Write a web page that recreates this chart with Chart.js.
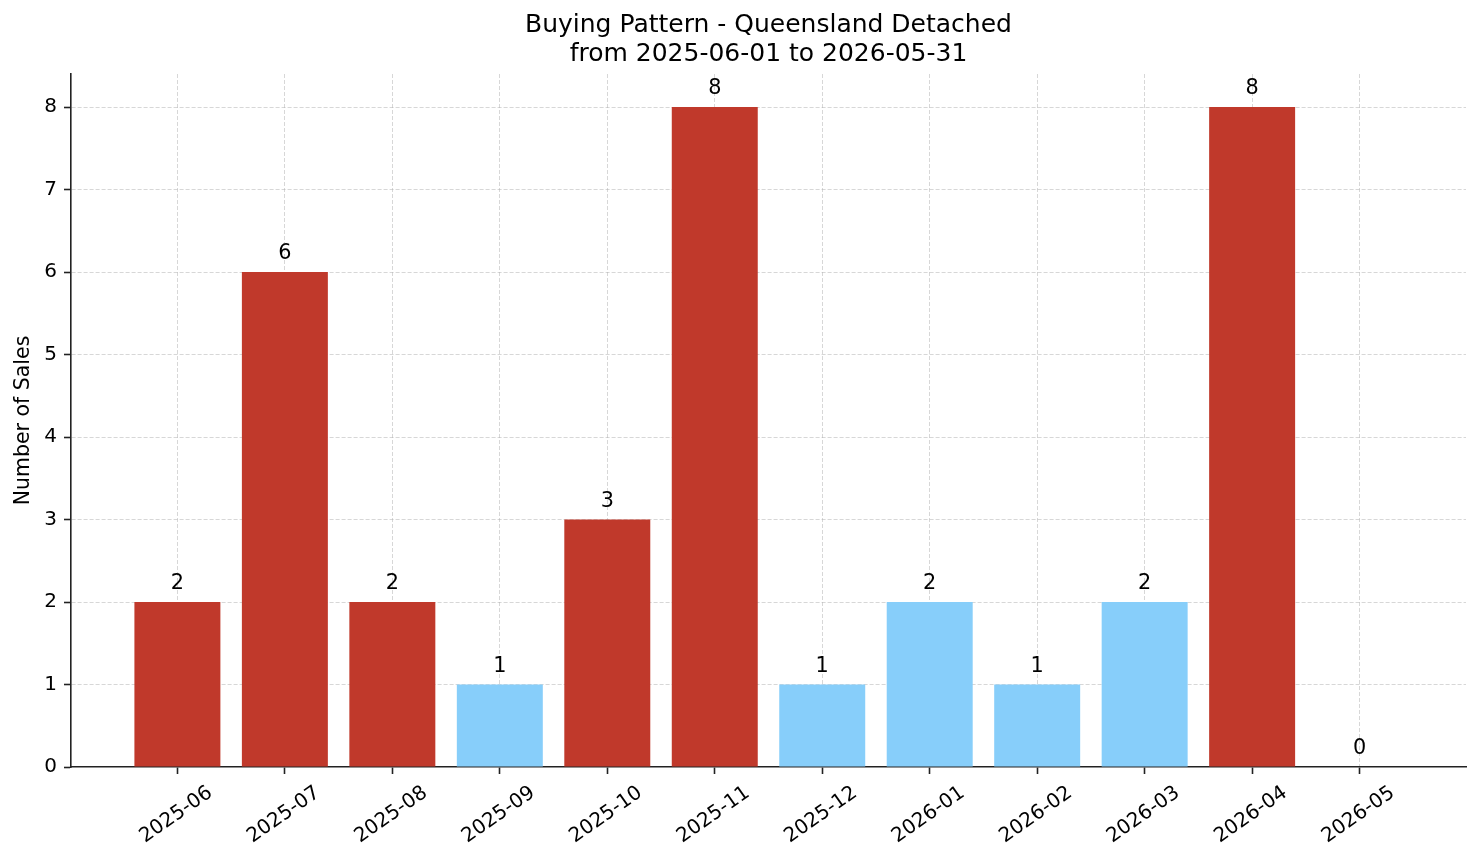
<!DOCTYPE html>
<html>
<head>
<meta charset="utf-8">
<title>Buying Pattern - Queensland Detached</title>
<script src="https://cdn.jsdelivr.net/npm/chart.js@4.4.1/dist/chart.umd.min.js"></script>
<style>
  html, body { margin: 0; padding: 0; background: #fff; }
  canvas { display: block; }
</style>
</head>
<body>
<canvas id="buyingChart" width="1481" height="863"></canvas>
<script>
// months and number of sales per month
const months = ['2025-06', '2025-07', '2025-08', '2025-09', '2025-10', '2025-11',
                '2025-12', '2026-01', '2026-02', '2026-03', '2026-04', '2026-05'];
const sales = [2, 6, 2, 1, 3, 8, 1, 2, 1, 2, 8, 0];
// red = busy month, light blue = quiet month
const barColors = ['#c0392b', '#c0392b', '#c0392b', '#87cefa', '#c0392b', '#c0392b',
                   '#87cefa', '#87cefa', '#87cefa', '#87cefa', '#c0392b', '#87cefa'];

const FONT = 'DejaVu Sans';

// value labels above each bar, drawn last so they sit on top of the grid
const valueLabels = {
    id: 'valueLabels',
    afterDraw(chart) {
        const ctx = chart.ctx;
        const meta = chart.getDatasetMeta(0);
        ctx.save();
        ctx.font = '20.8px "' + FONT + '"';
        ctx.fillStyle = '#000';
        ctx.textAlign = 'center';
        ctx.textBaseline = 'alphabetic';
        meta.data.forEach(function(bar, i) {
            ctx.fillText(String(sales[i]), bar.x, bar.y - 13);
        });
        ctx.restore();
    }
};

const gridColor = 'rgba(176, 176, 176, 0.5)';

new Chart(document.getElementById('buyingChart').getContext('2d'), {
    type: 'bar',
    data: {
        datasets: [{
            data: sales.map((v, i) => ({ x: i, y: v })),
            backgroundColor: barColors,
            borderWidth: 0,
            barPercentage: 0.8,
            categoryPercentage: 1.0
        }]
    },
    options: {
        responsive: false,
        animation: false,
        layout: { padding: { left: 0, right: 15, top: 0, bottom: 0 } },
        plugins: {
            legend: { display: false },
            tooltip: { enabled: false },
            title: {
                display: true,
                fullSize: false,
                text: ['Buying Pattern - Queensland Detached', 'from 2025-06-01 to 2026-05-31'],
                color: '#000',
                font: { family: FONT, size: 25, weight: 'normal', lineHeight: '29px' },
                padding: { top: 11, bottom: 5 }
            }
        },
        scales: {
            x: {
                type: 'linear',
                min: -0.99,
                max: 11.99,
                offset: false,
                z: 1,
                grid: {
                    offset: false,
                    color: gridColor,
                    lineWidth: 1,
                    tickColor: '#222',
                    tickWidth: 1.6,
                    tickLength: 7,
                    tickBorderDash: []
                },
                border: { color: '#222', width: 1.6, dash: [4, 2] },
                ticks: {
                    stepSize: 1,
                    includeBounds: false,
                    autoSkip: false,
                    minRotation: 35,
                    maxRotation: 35,
                    labelOffset: 33,
                    padding: 7,
                    color: '#000',
                    font: { family: FONT, size: 20 },
                    callback: (v) => months[v] ?? ''
                },
                afterFit(scale) { scale.height = 96; }
            },
            y: {
                min: 0,
                max: 8.4,
                z: 1,
                grid: {
                    color: (c) => (c.tick && c.tick.value === 0) ? 'rgba(0,0,0,0)' : gridColor,
                    lineWidth: 1,
                    tickColor: '#222',
                    tickWidth: 1.6,
                    tickLength: 7,
                    tickBorderDash: []
                },
                border: { color: '#222', width: 1.6, dash: [4, 2] },
                ticks: {
                    stepSize: 1,
                    includeBounds: false,
                    padding: 7,
                    color: '#000',
                    font: { family: FONT, size: 20 }
                },
                title: {
                    display: true,
                    text: 'Number of Sales',
                    color: '#000',
                    font: { family: FONT, size: 20.5 },
                    padding: { top: 11, bottom: 0 }
                },
                afterFit(scale) { scale.width = 71; }
            }
        }
    },
    plugins: [valueLabels]
});
</script>
</body>
</html>
